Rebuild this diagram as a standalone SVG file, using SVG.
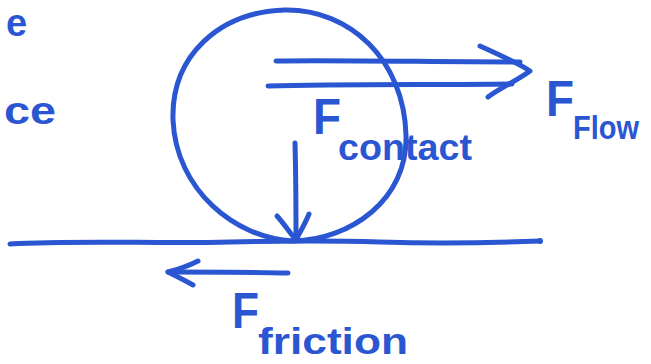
<svg xmlns="http://www.w3.org/2000/svg" width="651" height="364" viewBox="0 0 651 364">
<style>
.ink{fill:none;stroke:#2b56d2;stroke-width:5;stroke-linecap:round;stroke-linejoin:round}
.t{fill:#2b56d2;font-family:"Liberation Sans",Arial,sans-serif;font-weight:bold}
</style>
<rect width="651" height="364" fill="#ffffff"/>
<g id="margin-text">
<text class="t" x="6" y="36" font-size="38">e</text>
<text class="t" x="4" y="124" font-size="38" textLength="52" lengthAdjust="spacingAndGlyphs">ce</text>
</g>
<g id="ground">
<path class="ink" d="M10,244 C80,240 160,244 230,242 C270,241 320,240 380,242 C440,244 490,243 540,241"/>
<circle cx="540" cy="241" r="3" fill="#2b56d2"/>
</g>
<g id="ball">
<path class="ink" d="M293,241 C235,238 176,190 173,120 C171,55 220,12 285,10 C350,9 404,60 406,135 C408,200 350,240 293,241 Z"/>
</g>
<g id="connectors">
<g id="flow-arrow">
<path class="ink" d="M276,61 C340,60 440,62 520,62"/>
<path class="ink" d="M268,86 C340,84 440,85 512,84"/>
<path class="ink" d="M480,46 C500,55 518,63 530,71 C518,80 500,88 488,97"/>
</g>
<g id="contact-arrow">
<path class="ink" d="M295,143 C296,180 296,215 296,240"/>
<path class="ink" d="M277,216 C285,225 290,233 296,240 C300,232 305,224 309,214"/>
</g>
<g id="friction-arrow">
<path class="ink" d="M288,273 C250,272 200,272 168,272"/>
<path class="ink" d="M198,261 C188,266 176,270 168,272 C176,276 186,281 193,285"/>
</g>
</g>
<g id="label-flow">
<text class="t" x="546" y="116" font-size="50" textLength="28" lengthAdjust="spacingAndGlyphs">F</text>
<text class="t" x="573" y="139" font-size="34" textLength="66" lengthAdjust="spacingAndGlyphs">Flow</text>
</g>
<g id="label-contact">
<text class="t" x="313" y="134" font-size="50" textLength="28" lengthAdjust="spacingAndGlyphs">F</text>
<text class="t" x="338" y="160" font-size="36" textLength="134" lengthAdjust="spacingAndGlyphs">contact</text>
</g>
<g id="label-friction">
<text class="t" x="232" y="328" font-size="50" textLength="27" lengthAdjust="spacingAndGlyphs">F</text>
<text class="t" x="258" y="354" font-size="36" textLength="150" lengthAdjust="spacingAndGlyphs">friction</text>
</g>
</svg>
